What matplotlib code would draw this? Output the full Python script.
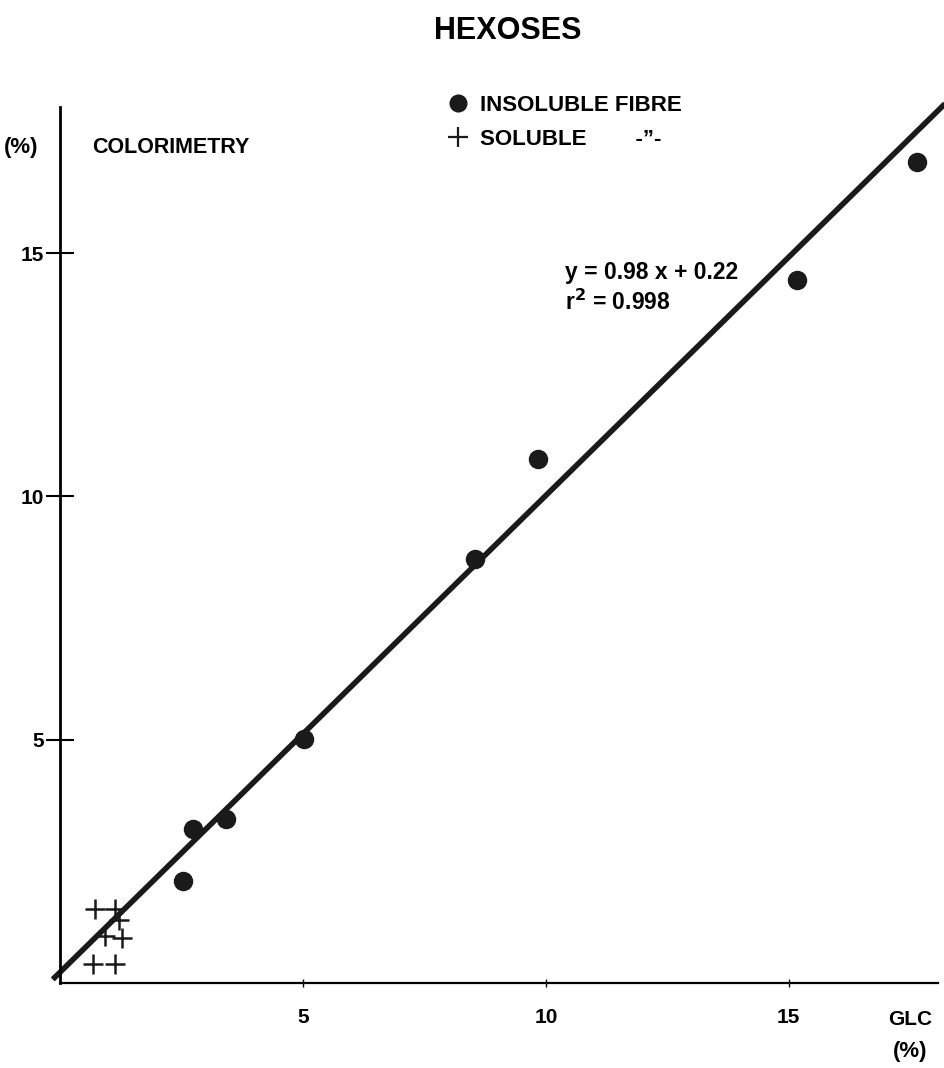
import numpy as np
import matplotlib.pyplot as plt
from matplotlib.lines import Line2D

# GLC vs colorimetry, hexoses (%)
insol_glc = [17.63, 15.16, 9.84, 8.54, 5.02, 3.42, 2.74, 2.53]
insol_col = [16.88, 14.44, 10.78, 8.71, 5.01, 3.37, 3.16, 2.09]

sol_glc = [0.72, 1.13, 1.22, 0.92, 1.28, 0.68, 1.13]
sol_col = [1.52, 1.52, 1.30, 0.97, 0.92, 0.38, 0.38]

slope, intercept = 0.98, 0.22
x_ticks = [5, 10, 15]
y_ticks = [5, 10, 15]

plt.rcParams["font.family"] = ["Liberation Sans", "DejaVu Sans"]
plt.rcParams["font.weight"] = "bold"

fig = plt.figure(figsize=(9.45, 10.68), dpi=100)
ax = fig.add_axes([0.0635, 0.0796, 0.929, 0.820])
ax.set_xlim(0, 18.07)
ax.set_ylim(0, 18.0)

for s in ["top", "right"]:
    ax.spines[s].set_visible(False)
ax.spines["left"].set_linewidth(2)
ax.spines["bottom"].set_linewidth(1.6)

# fitted line
xf = np.array([-0.15, 18.25])
ax.plot(xf, slope * xf + intercept, color="#1a1a1a", lw=4, clip_on=False,
        solid_capstyle="butt", zorder=2)

ax.plot(insol_glc, insol_col, "o", ms=13, color="#1a1a1a", zorder=3,
        clip_on=False)
ax.plot(sol_glc, sol_col, "+", ms=14, mew=1.8, color="#1a1a1a", zorder=3)

ax.set_xticks(x_ticks)
ax.set_yticks(y_ticks)
ax.tick_params(axis="y", direction="inout", length=20, width=1.5,
               labelsize=15, pad=1.5)
ax.tick_params(axis="x", direction="inout", length=6, width=1,
               labelsize=15, pad=15)
for lab in ax.get_xticklabels() + ax.get_yticklabels():
    lab.set_fontweight("bold")

fig.text(0.537, 0.971, "HEXOSES", ha="center", va="center", fontsize=22)
fig.text(0.004, 0.862, "(%)", ha="left", va="center", fontsize=16)
fig.text(0.098, 0.862, "COLORIMETRY", ha="left", va="center", fontsize=15.5)
fig.text(0.963, 0.045, "GLC", ha="center", va="center", fontsize=15)
fig.text(0.963, 0.015, "(%)", ha="center", va="center", fontsize=16)

fig.text(0.598, 0.745, "y = 0.98 x + 0.22", ha="left", va="center",
         fontsize=16.5)
fig.text(0.598, 0.717, "r$^{2}$ = 0.998", ha="left", va="center",
         fontsize=16.5)

handles = [
    Line2D([], [], ls="none", marker="o", ms=12, color="#1a1a1a"),
    Line2D([], [], ls="none", marker="+", ms=15, mew=1.6, color="#1a1a1a"),
]
fig.legend(handles, ["INSOLUBLE FIBRE", "SOLUBLE        -\u201d-"],
           loc="upper left", bbox_to_anchor=(0.452, 0.930), frameon=False,
           fontsize=16, handlelength=1.0, handletextpad=0.5, labelspacing=0.6)

fig.savefig("out.png", dpi=100)
